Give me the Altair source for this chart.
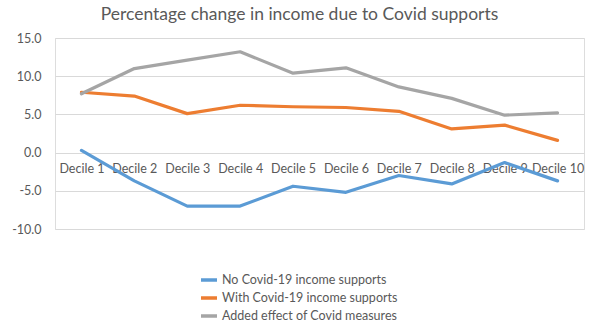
import altair as alt
import pandas as pd

deciles = ["Decile 1", "Decile 2", "Decile 3", "Decile 4", "Decile 5",
           "Decile 6", "Decile 7", "Decile 8", "Decile 9", "Decile 10"]
series_names = ["No Covid-19 income supports",
                "With Covid-19 income supports",
                "Added effect of Covid measures"]
no_support = [0.3, -3.7, -7.0, -7.0, -4.4, -5.2, -3.0, -4.1, -1.3, -3.7]
with_support = [7.9, 7.4, 5.1, 6.2, 6.0, 5.9, 5.4, 3.1, 3.6, 1.6]
added_effect = [7.7, 11.0, 12.1, 13.2, 10.4, 11.1, 8.6, 7.1, 4.9, 5.2]
y_ticks = [-10, -5, 0, 5, 10, 15]
colors = ["#5B9BD5", "#ED7D31", "#A5A5A5"]

rows = []
for i, (name, vals) in enumerate(zip(series_names, [no_support, with_support, added_effect])):
    for d, v in zip(deciles, vals):
        rows.append({"Decile": d, "Value": v, "Series": name, "order": i})
df = pd.DataFrame(rows)

FONT = "Lato"
GREY = "#595959"

chart = alt.Chart(df).mark_line(strokeWidth=3.2, strokeCap="round", strokeJoin="round").encode(
    x=alt.X("Decile:N", sort=deciles, title=None,
            scale=alt.Scale(paddingInner=0, paddingOuter=0.5),
            axis=alt.Axis(labelAngle=0, domain=False, ticks=False, offset=-76.6,
                          labelPadding=10, labelFontSize=12.5, labelColor=GREY,
                          labelFont=FONT, grid=False)),
    y=alt.Y("Value:Q", title=None,
            scale=alt.Scale(domain=[-10, 15], nice=False, zero=False),
            axis=alt.Axis(values=y_ticks, domain=False, ticks=False,
                          labelExpr="replace(format(datum.value, '.1f'), '\u2212', '-')",
                          labelPadding=14, labelFontSize=12.5, labelColor=GREY,
                          labelFont=FONT, gridColor="#D9D9D9", gridWidth=1)),
    color=alt.Color("Series:N", sort=series_names,
                    scale=alt.Scale(domain=series_names, range=colors),
                    legend=alt.Legend(title=None, orient="none", legendX=144, legendY=232,
                                      direction="vertical", symbolType="stroke",
                                      symbolSize=256, symbolStrokeWidth=3.5,
                                      labelFontSize=12.5, labelColor=GREY, labelFont=FONT,
                                      labelOffset=3, rowPadding=1, labelLimit=400)),
    order=alt.Order("order:Q"),
    detail="Series:N",
).properties(
    width=529, height=191,
    title=alt.TitleParams("Percentage change in income due to Covid supports",
                          fontSize=17.5, font=FONT, fontWeight="normal", color=GREY,
                          anchor="middle", dx=-20, offset=9),
    autosize=alt.AutoSizeParams(type="none"),
    padding={"left": 55, "top": 38, "right": 16, "bottom": 107},
).configure_view(stroke=None).configure(background="white")

chart.save("out.html", embed_options={"renderer": "svg", "actions": False})
